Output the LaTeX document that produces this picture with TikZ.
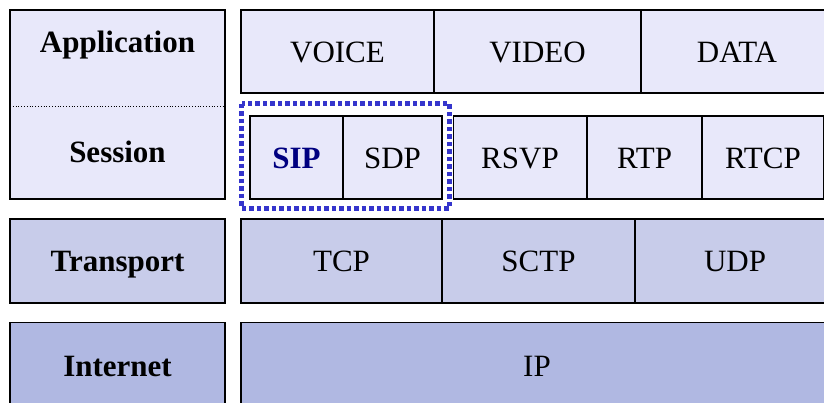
\documentclass[tikz,border=0pt]{standalone}
\usepackage{fontspec}
\setmainfont{Liberation Serif}
\definecolor{appfill}{HTML}{E8E8FA}
\definecolor{trfill}{HTML}{C8CCEA}
\definecolor{netfill}{HTML}{B0B8E2}
\definecolor{sipblue}{HTML}{3535CC}
\definecolor{sipnavy}{HTML}{000080}
\begin{document}
\begin{tikzpicture}[x=1pt,y=-1pt,
  cell/.style={draw=black, line width=1.6pt, inner sep=0pt, outer sep=0pt,
    font=\fontsize{31}{36}\selectfont, text height=21pt, text depth=0pt},
  appcell/.style={cell, fill=appfill},
  trcell/.style={cell, fill=trfill},
  netcell/.style={cell, fill=netfill},
  boldtext/.style={font=\fontsize{31}{36}\selectfont\bfseries},
  layerlabel/.style={boldtext, inner sep=0pt, text height=21pt, text depth=0pt},
  sipframe/.style={draw=sipblue, line width=4.5pt, dash pattern=on 4.5pt off 3pt}]
\useasboundingbox (0,0) rectangle (824,402);
\clip (0,0) rectangle (824,402);

% layer names (left column)
\node[appcell, minimum width=215pt, minimum height=189pt] (appsess) at (117.5,104.5) {};
\draw[line width=0.8pt, dotted] (appsess.west |- 0,106) coordinate (dl) -- (appsess.east |- 0,106) coordinate (dr);
\node[layerlabel] (lapp) at (117.5,42) {Application};
\node[layerlabel] (lsess) at (117.5,152) {Session};
\node[trcell, boldtext, minimum width=215pt, minimum height=84pt] (ltr) at (117.5,261) {Transport};
\node[netcell, boldtext, minimum width=215pt, minimum height=86pt] (lnet) at (117.5,365.5) {Internet};

% application row
\node[appcell, minimum width=193pt, minimum height=83pt] (voice) at (337.5,51.5) {VOICE};
\node[appcell, minimum width=207pt, minimum height=83pt] (video) at (537.5,51.5) {VIDEO};
\node[appcell, minimum width=192pt, minimum height=83pt] (data) at (737,51.5) {DATA};

% session row
\node[appcell, boldtext, text=sipnavy, minimum width=93pt, minimum height=83pt] (sip) at (296.5,157.5) {SIP};
\node[appcell, minimum width=99pt, minimum height=83pt] (sdp) at (392.5,157.5) {SDP};
\node[appcell, minimum width=133pt, minimum height=83pt] (rsvp) at (520,157.5) {RSVP};
\node[appcell, minimum width=115pt, minimum height=83pt] (rtp) at (644.5,157.5) {RTP};
\node[appcell, minimum width=122pt, minimum height=83pt] (rtcp) at (763,157.5) {RTCP};

% SIP/SDP signalling frame
\draw[sipframe] (241.5,103.7) rectangle (449.5,208.5);

% transport row
\node[trcell, minimum width=201pt, minimum height=84pt] (tcp) at (341.5,261) {TCP};
\node[trcell, minimum width=193pt, minimum height=84pt] (sctp) at (538.5,261) {SCTP};
\node[trcell, minimum width=200pt, minimum height=84pt] (udp) at (735,261) {UDP};

% internet row
\node[netcell, minimum width=592pt, minimum height=86pt] (ip) at (537,365.5) {IP};
\end{tikzpicture}
\end{document}
